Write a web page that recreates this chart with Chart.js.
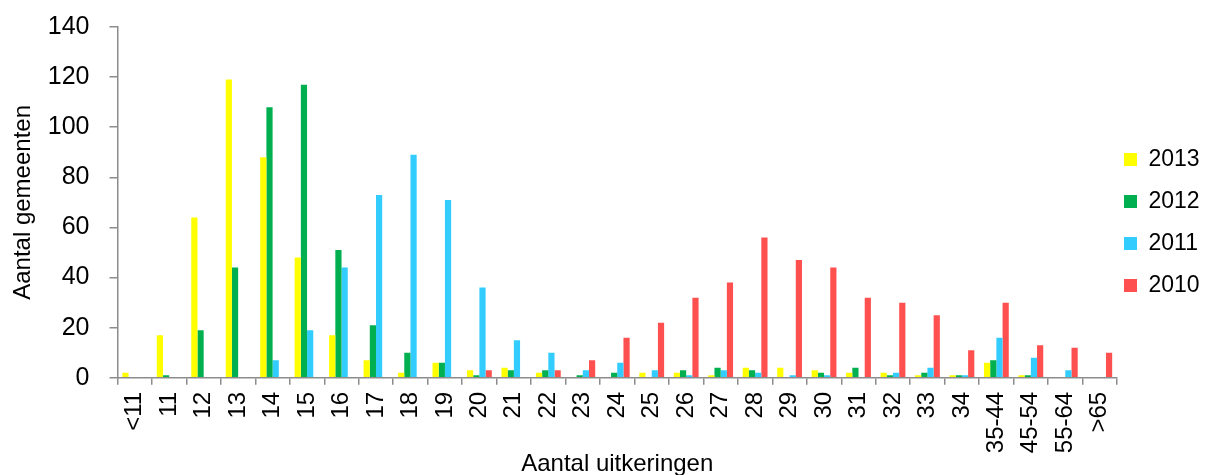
<!DOCTYPE html>
<html>
<head>
<meta charset="utf-8">
<script src="https://cdn.jsdelivr.net/npm/chart.js@4/dist/chart.umd.min.js"></script>
<style>
  html, body { margin: 0; padding: 0; background: #fff; overflow: hidden; }
  #wrap { width: 1205px; height: 479px; position: relative; }
</style>
</head>
<body>
<div id="wrap"><canvas id="c" width="1205" height="479"></canvas></div>
<script>
const categories = ['<11','11','12','13','14','15','16','17','18','19','20','21','22','23','24','25','26','27','28','29','30','31','32','33','34','35-44','45-54','55-64','>65'];
const seriesNames = ['2013','2012','2011','2010'];
const values2013 = [2,17,64,119,88,48,17,7,2,6,3,4,2,0,0,2,2,1,4,4,3,2,2,1,1,6,1,0,0];
const values2012 = [0,1,19,44,108,117,51,21,10,6,1,3,3,1,2,0,3,4,3,0,2,4,1,2,1,7,1,0,0];
const values2011 = [0,0,0,0,7,19,44,73,89,71,36,15,10,3,6,3,1,3,2,1,1,0,2,4,1,16,8,3,0];
const values2010 = [0,0,0,0,0,0,0,0,0,0,3,0,3,7,16,22,32,38,56,47,44,32,30,25,11,30,13,12,10];
const yTicks = [0,20,40,60,80,100,120,140];
const colors = ['#FFFF00','#00B050','#33CCFF','#FF5050'];

const allValues = [values2013, values2012, values2011, values2010];
const datasets = seriesNames.map((n, i) => ({
  label: n,
  data: allValues[i],
  backgroundColor: colors[i],
  borderWidth: 0,
  categoryPercentage: 0.72,
  barPercentage: 1.0
}));

const FONT = "'Liberation Sans', Arial, sans-serif";
const axisColor = '#8c8c8c';

// keep the legend narrow and place it like the reference
const legendTweak = {
  id: 'legendTweak',
  beforeUpdate(chart) {
    const lg = chart.legend;
    if (lg && !lg._tweaked) {
      const origFit = lg.fit;
      lg.fit = function () { origFit.call(this); this.width = 88; };
      lg._tweaked = true;
    }
  },
  afterLayout(chart) {
    const lg = chart.legend;
    if (!lg) return;
    lg.left -= 12;
    lg.top -= 17; lg.bottom -= 17;
  }
};

new Chart(document.getElementById('c'), {
  type: 'bar',
  data: { labels: categories, datasets },
  plugins: [legendTweak],
  options: {
    responsive: false,
    animation: false,
    devicePixelRatio: 1,
    layout: { padding: { left: 9, right: 0, top: 0, bottom: 0 } },
    plugins: {
      legend: {
        position: 'right',
        align: 'center',
        labels: {
          font: { family: FONT, size: 23 },
          color: '#000',
          boxWidth: 13,
          boxHeight: 13,
          padding: 19
        }
      },
      tooltip: { enabled: false }
    },
    scales: {
      x: {
        offset: true,
        grid: { display: true, drawOnChartArea: false, offset: true, tickLength: 7, color: axisColor, lineWidth: 1.5 },
        border: { display: true, color: axisColor, width: 1.5 },
        ticks: {
          font: { family: FONT, size: 24 },
          color: '#000',
          maxRotation: 90,
          minRotation: 90,
          autoSkip: false,
          padding: 7
        },
        title: {
          display: true,
          text: 'Aantal uitkeringen',
          font: { family: FONT, size: 24 },
          color: '#000',
          padding: { top: -10, bottom: 0 }
        }
      },
      y: {
        min: 0,
        max: 140,
        afterBuildTicks: (axis) => { axis.ticks = yTicks.map(v => ({ value: v })); },
        afterFit: (axis) => { axis.width -= 12; },
        grid: { display: true, drawOnChartArea: false, tickLength: 8, color: axisColor, lineWidth: 1.5 },
        border: { display: true, color: axisColor, width: 1.5 },
        ticks: {
          font: { family: FONT, size: 25, lineHeight: 0.56 },
          color: '#000',
          padding: 20
        },
        title: {
          display: true,
          text: 'Aantal gemeenten',
          font: { family: FONT, size: 24 },
          color: '#000',
          padding: { top: 0, bottom: 2 }
        }
      }
    }
  }
});
</script>
</body>
</html>
